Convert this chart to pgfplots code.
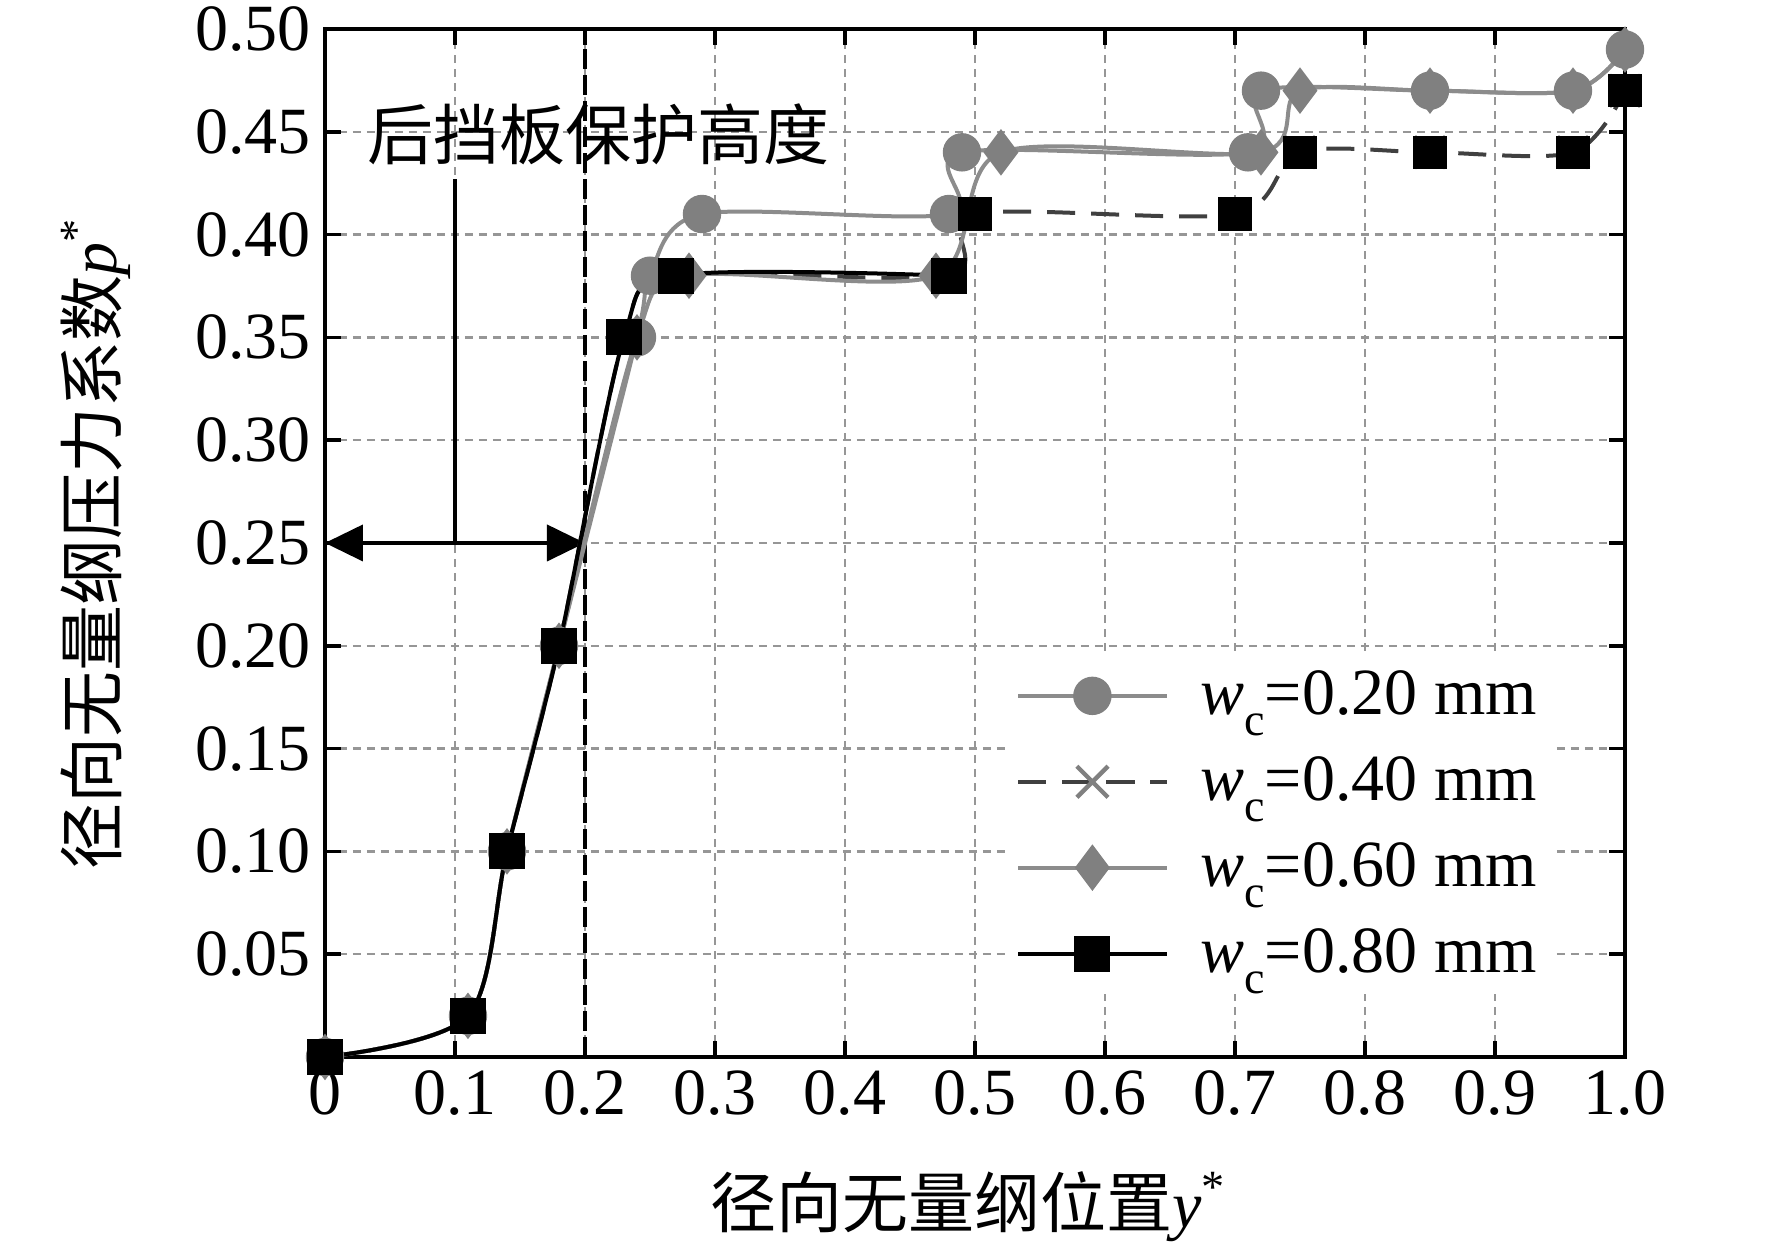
\documentclass[border=0pt]{standalone}
\usepackage{pgfplots}
\pgfplotsset{compat=1.18}
\usepackage{fontspec}
\setmainfont{Liberation Serif}
\newfontfamily\cjk{Noto Sans CJK SC}
\usetikzlibrary{arrows.meta}
\newcommand\fs{\fontsize{16.5}{19.8}\selectfont}
\newcommand\wc{\textit{w}\raisebox{-0.32em}{\fontsize{11.5}{12}\selectfont c}}
\definecolor{mkgray}{RGB}{128,128,128}
\definecolor{lngray}{RGB}{140,140,140}
\definecolor{gridgray}{RGB}{150,150,150}

\pgfplotstableread{
x y
0 0
0.11 0.02
0.14 0.10
0.18 0.20
0.24 0.35
0.25 0.38
0.29 0.41
0.48 0.41
0.49 0.44
0.71 0.44
0.72 0.47
0.85 0.47
0.96 0.47
1.0 0.49
}\wcA
\pgfplotstableread{
x y
0 0
0.11 0.02
0.14 0.10
0.18 0.20
0.23 0.35
0.27 0.38
0.48 0.38
0.50 0.41
0.70 0.41
0.75 0.44
0.85 0.44
0.96 0.44
1.0 0.47
}\wcB
\pgfplotstableread{
x y
0 0
0.11 0.02
0.14 0.10
0.18 0.20
0.24 0.35
0.28 0.38
0.47 0.38
0.52 0.44
0.72 0.44
0.75 0.47
0.85 0.47
0.96 0.47
1.0 0.49
}\wcC
\pgfplotstableread{
x y
0 0
0.11 0.02
0.14 0.10
0.18 0.20
0.23 0.35
0.27 0.38
0.48 0.38
}\wcDa
\pgfplotstableread{
x y
0.50 0.41
0.70 0.41
0.75 0.44
0.85 0.44
0.96 0.44
1.0 0.47
}\wcDb

\begin{document}
\begin{tikzpicture}
\begin{axis}[
  scale only axis, width=325pt, height=257pt,
  xmin=0, xmax=1, ymin=0, ymax=0.5,
  clip=false,
  axis line style={black, line width=0.9pt},
  tick align=inside, ticks=major, major tick length=4pt,
  tick style={black, line width=0.9pt},
  xtick={0,0.1,...,1.0},
  xticklabels={0,0.1,0.2,0.3,0.4,0.5,0.6,0.7,0.8,0.9,1.0},
  ytick={0.05,0.10,...,0.51},
  yticklabels={0.05,0.10,0.15,0.20,0.25,0.30,0.35,0.40,0.45,0.50},
  ymajorgrids, xmajorgrids,
  major grid style={gridgray, line width=0.6pt, dash pattern=on 2pt off 1.5pt},
  tick label style={font=\fs},
  /pgf/number format/assume math mode=true,
  xlabel={{\cjk 径向无量纲位置}\textit{y}\textsuperscript{*}},
  ylabel={{\cjk 径向无量纲压力系数}\textit{p}\textsuperscript{*}},
  every axis x label/.style={at={(rel axis cs:0.495,-0.146)}, anchor=center, font=\fs},
  every axis y label/.style={at={(rel axis cs:-0.176,0.5)}, rotate=90, anchor=center, font=\fs},
  legend style={at={(rel axis cs:0.945,0.06)}, anchor=south east, draw=none, fill=white,
     font=\fs, row sep=5pt, inner sep=2pt,
     /tikz/every odd column/.append style={column sep=6pt}},
  legend cell align=left,
  legend image code/.code={\draw[mark repeat=2,mark phase=2] plot coordinates {(0cm,0cm) (0.65cm,0cm) (1.3cm,0cm)};},
]
% annotations
\draw[black, line width=1pt, dash pattern=on 5pt off 1.5pt] (axis cs:0.2,0) -- (axis cs:0.2,0.5);
\draw[black, line width=0.9pt] (axis cs:0.1,0.25) -- (axis cs:0.1,0.427);
\draw[black, line width=1pt, {Triangle[length=9.5pt,width=9pt]}-{Triangle[length=9.5pt,width=9pt]}] (axis cs:0,0.25) -- (axis cs:0.2,0.25);
\node[font=\fs, anchor=west, inner sep=0pt] at (axis cs:0.032,0.449) {\cjk 后挡板保护高度};

\addplot[lngray, line width=1pt, smooth, mark=*, mark size=4.3pt, mark options={solid, fill=mkgray, draw=mkgray}] table {\wcA};
\addlegendentry{\wc=0.20 mm}
\addplot[black!75, line width=1pt, smooth, dash pattern=on 7pt off 4pt, mark=x, mark size=5.5pt, mark options={solid, mkgray, line width=1.1pt}] table {\wcB};
\addlegendentry{\wc=0.40 mm}
\addplot[lngray, line width=1pt, smooth, mark=diamond*, mark size=5pt, mark options={solid, fill=mkgray, draw=mkgray}] table {\wcC};
\addlegendentry{\wc=0.60 mm}
\addplot[black, line width=1pt, smooth, mark=square*, mark size=4pt, mark options={solid, fill=black}] table {\wcDa};
\addlegendentry{\wc=0.80 mm}
\addplot[black, only marks, mark=square*, mark size=4pt, mark options={solid, fill=black}, forget plot] table {\wcDb};

\coordinate (bbsw) at (rel axis cs:-0.25,-0.1887);
\coordinate (bbne) at (rel axis cs:1.1131,1.0282);
\end{axis}
\pgfresetboundingbox
\path (bbsw) rectangle (bbne);
\end{tikzpicture}
\end{document}
